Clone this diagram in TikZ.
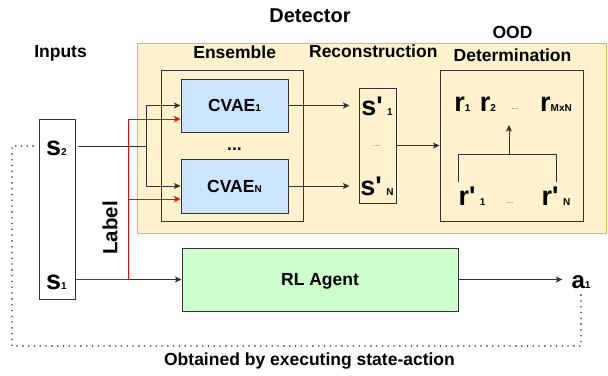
\documentclass[tikz,border=0pt]{standalone}
\usepackage{fontspec}
\setmainfont{Liberation Sans}
\usetikzlibrary{arrows.meta}
\definecolor{detfill}{HTML}{FFF2CC}
\definecolor{detdraw}{HTML}{D6B656}
\definecolor{cvaeblue}{HTML}{CCE5FF}
\definecolor{rlgreen}{HTML}{CCFFCC}
\definecolor{linegray}{HTML}{333333}
\newcommand{\ix}[1]{{\fontsize{10}{10}\selectfont #1}}
\tikzset{
	frame/.style={draw=linegray, line width=1pt, inner sep=0pt, font=\fontsize{17.5}{22}\selectfont\bfseries},
	detbox/.style={draw=detdraw, fill=detfill, line width=1pt, inner sep=0pt},
	heading/.style={anchor=base, inner sep=0pt, font=\fontsize{17.5}{23}\selectfont\bfseries},
	sym/.style={anchor=base, inner sep=0pt, font=\fontsize{27}{27}\selectfont\bfseries},
	tinydots/.style={anchor=base, inner sep=0pt, text=black!70, font=\fontsize{8}{8}\selectfont},
	conn/.style={draw=linegray, line width=1pt},
	arr/.style={conn, -{Stealth[length=6.5pt, width=6pt, inset=1.5pt]}},
	redconn/.style={draw=red, line width=1pt},
	redarr/.style={redconn, -{Stealth[length=6.5pt, width=6pt, inset=1.5pt]}},
	feedback/.style={draw=black!75, line width=1.8pt, line cap=round, dash pattern=on 0pt off 5.8pt}
}

\begin{document}
\begin{tikzpicture}[x=1pt,y=-1pt]
			%%%%% START %%%%%
			\useasboundingbox (0,0) rectangle (608,375);
			
			\node[detbox, minimum width=469pt, minimum height=190pt] (detector) at (371.5,138) {};
			\node[anchor=base, inner sep=0pt, font=\fontsize{20}{20}\selectfont\bfseries] (dettitle) at (310,22) {Detector};
			
			\node[heading] (intitle) at (60.5,57.7) {Inputs};
			\node[heading] (enstitle) at (234.7,58) {Ensemble};
			\node[heading] (rectitle) at (373.3,57.5) {Reconstruction};
			\node[heading, anchor=north, align=center] (oodtitle) at (512.5,26.5) {OOD\\Determination};
			
			\node[frame, minimum width=142pt, minimum height=151pt] (ensemble) at (232,145.5) {};
			\node[frame, minimum width=37pt, minimum height=115pt] (recon) at (377.5,145.5) {};
			\node[frame, minimum width=143pt, minimum height=151pt] (ood) at (511.5,145.5) {};
			\node[frame, minimum width=36pt, minimum height=180pt] (inputs) at (57,209) {};
			
			\coordinate (s2out) at (78,146);
			\coordinate (s1out) at (76,279.5);
			\coordinate (jb) at (146,146);
			\coordinate (jr) at (128,279.5);
			
			\draw[conn] (s2out) -- (jb);
			\node[frame, fill=cvaeblue, minimum width=107pt, minimum height=53pt] (cvae1) at (234.5,105.5) {CVAE\ix{1}};
			\node[frame, fill=cvaeblue, minimum width=107pt, minimum height=54pt] (cvaeN) at (234.5,186) {CVAE\ix{N}};
			\node[heading] (cdots) at (234.5,150.5) {...};
			\draw[arr] (jb) |- (cvae1.west);
			\draw[arr] (jb) |- (cvaeN.west);
			
			\node[frame, fill=rlgreen, text depth=0pt, minimum width=276pt, minimum height=63pt] (rl) at (320,279.5) {RL Agent};
			\draw[arr] (s1out) -- (rl.west);
			\draw[redconn] (s1out) -- (jr);
			\draw[redarr] (jr) |- ([yshift=-13.5pt]cvae1.west);
			\draw[redarr] (jr) |- ([yshift=-13pt]cvaeN.west);
			\node[heading, anchor=center, rotate=90, font=\fontsize{20.5}{21}\selectfont\bfseries] (label) at (110,228) {Label};
			
			\node[sym] (s2) at (56.5,155.7) {s\ix{2}};
			\node[sym] (s1) at (56.5,289.3) {s\ix{1}};
			
			\node[sym] (sp1) at (377,115) {s\textquotesingle\,\ix{1}};
			\node[tinydots] (spdots) at (377,146) {...};
			\node[sym] (spN) at (377,195) {s\textquotesingle\,\ix{N}};
			\draw[arr, shorten >=9pt] (cvae1.east) -- (cvae1.east -| recon.west);
			\draw[arr, shorten >=9pt] (cvaeN.east) -- (cvaeN.east -| recon.west);
			\draw[arr] (recon.east) -- (ood.west);
			
			\node[sym] (r1) at (462.5,111.7) {r\ix{1}};
			\node[sym] (r2) at (488,111.7) {r\ix{2}};
			\node[tinydots] (rdots) at (515,109) {...};
			\node[sym] (rMN) at (556,111.7) {r\ix{MxN}};
			\node[sym] (rp1) at (472,205) {r\textquotesingle\,\ix{1}};
			\node[tinydots] (rpdots) at (510,203) {...};
			\node[sym] (rpN) at (556,205) {r\textquotesingle\,\ix{N}};
			\coordinate (bl) at (458,182);
			\coordinate (br) at (556,182);
			\coordinate (bm) at (509,154);
			\coordinate (rtip) at (509,125);
			\draw[conn] (bl) |- (br |- bm) -- (br);
			\draw[arr] (bm) -- (rtip);
			
			\node[sym, font=\fontsize{24}{24}\selectfont\bfseries] (a1) at (581,288.7) {a\ix{1}};
			\draw[arr, shorten >=9pt] (rl.east) -- (rl.east -| a1.west);
			
			\coordinate (loop) at (12,346);
			\draw[feedback, shorten <=6pt] (a1.south) |- (loop) |- (inputs.west |- s2out);
			\node[heading] (fbtext) at (309.5,365) {Obtained by executing state-action};
			%%%%% END %%%%%
		\end{tikzpicture}
\end{document}
